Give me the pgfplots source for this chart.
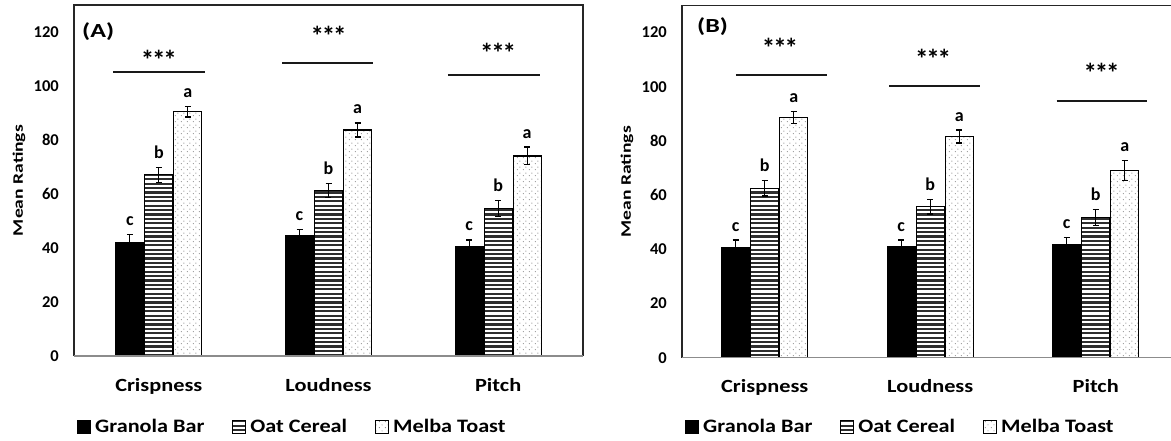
\documentclass[border=0pt]{standalone}
\usepackage{pgfplots}
\pgfplotsset{compat=1.18}
\usepackage{pgfplotstable}
\usepackage{graphicx}
\usepackage{fontspec}
\setmainfont{Carlito}
\usetikzlibrary{patterns}

\newcommand\fs[1]{\fontsize{#1}{#1}\selectfont\bfseries}
\newcommand\stars{{\fs{27}*\kern-2.2pt*\kern-2.2pt*}}
\tikzset{starnode/.style={anchor=base, inner sep=0pt}, sigline/.style={line width=1.6pt, black!90}}

\pgfdeclarepatternformonly{thickhlines}{\pgfqpoint{-1pt}{-1pt}}{\pgfqpoint{101pt}{5.5pt}}{\pgfqpoint{100pt}{4.4pt}}{%
  \pgfsetlinewidth{2.1pt}%
  \pgfpathmoveto{\pgfqpoint{-1pt}{1.1pt}}\pgfpathlineto{\pgfqpoint{101pt}{1.1pt}}\pgfusepath{stroke}}
\pgfdeclarepatternformonly{sparsedots}{\pgfqpoint{0pt}{0pt}}{\pgfqpoint{6pt}{6pt}}{\pgfqpoint{6pt}{6pt}}{%
  \pgfpathcircle{\pgfqpoint{1.5pt}{1.5pt}}{0.6pt}%
  \pgfpathcircle{\pgfqpoint{4.5pt}{4.5pt}}{0.6pt}\pgfusepath{fill}}

% Panel A
\pgfplotstableread{
x v e
0 42.0 3.0
1 44.5 2.5
2 40.5 2.5
}\AGran
\pgfplotstableread{
x v e
0 67.1 2.8
1 61.3 2.7
2 54.6 2.9
}\AOat
\pgfplotstableread{
x v e
0 90.5 2.0
1 83.7 2.6
2 74.1 3.3
}\AMel
% Panel B
\pgfplotstableread{
x v e
0 40.7 2.7
1 41.0 2.4
2 41.6 2.7
}\BGran
\pgfplotstableread{
x v e
0 62.5 2.8
1 55.7 2.7
2 51.7 2.9
}\BOat
\pgfplotstableread{
x v e
0 88.6 2.2
1 81.6 2.4
2 69.0 3.7
}\BMel

\pgfplotsset{
  mybars/.style={
    scale only axis,
    ybar=1pt, bar width=28pt,
    ymin=0, ymax=130,
    axis lines*=left, axis line style={draw=none},
    major tick length=0pt,
    clip=false,
    xtick={0,1,2},
    xticklabels={\scalebox{1.2}[1]{Crispness},\scalebox{1.2}[1]{Loudness},\scalebox{1.2}[1]{Pitch}},
    xticklabel style={font=\fs{18.6}, anchor=base, yshift=-35pt, inner sep=0pt},
    ytick={0,20,...,120},
    yticklabels={0,20,40,60,80,100,120},
    yticklabel style={font=\fs{16.5}, anchor=east, inner sep=0pt, xshift=-15pt},
    ylabel={\scalebox{1.35}[1]{Mean Ratings}},
    error bars/y dir=both,
    error bars/y explicit,
    error bars/error bar style={line width=1.2pt, black},
    error bars/error mark options={rotate=90, mark size=3pt, line width=1.2pt, black},
    visualization depends on={2.7*\thisrow{e}+9 \as \eshift},
    every node near coord/.append style={font=\fs{18}, anchor=base, inner sep=0pt, yshift=\eshift*1pt},
    legend style={draw=none, fill=none, legend columns=3, font=\fs{19},
      /tikz/every even column/.append style={column sep=26pt},
      /tikz/every odd column/.append style={column sep=2pt}},
  },
  gran/.style={fill=black, draw=black, line width=1.2pt, nodes near coords={c}},
  oat/.style={draw=black, line width=1.2pt, pattern=thickhlines, pattern color=black!82, nodes near coords={b}},
  mel/.style={draw=black, line width=1.2pt, pattern=sparsedots, pattern color=black!50, nodes near coords={a}},
}

\begin{document}
\begin{tikzpicture}
\useasboundingbox (0,0) rectangle (1171pt,440pt);

% ---------------- Panel A ----------------
\begin{axis}[mybars,
  at={(74pt,84pt)}, anchor=south west,
  width=509pt, height=351pt,
  xmin=-0.5, xmax=2.5,
  every axis y label/.style={at={(axis description cs:-0.108,0.5)}, rotate=90, anchor=center, font=\fs{14.5}},
  legend style={at={(axis description cs:0,-0.202)}, anchor=west},
  legend image code/.code={\draw[#1, line width=1pt] (0pt,-6.5pt) rectangle (13pt,6.5pt);},
]
\addplot[gran] table[x=x, y=v, y error=e] {\AGran};
\addplot[oat] table[x=x, y=v, y error=e] {\AOat};
\addplot[mel] table[x=x, y=v, y error=e] {\AMel};
\legend{\scalebox{1.17}[1]{Granola Bar},\scalebox{1.17}[1]{Oat Cereal},\scalebox{1.17}[1]{Melba Toast}}
\draw[black!85, line width=1.4pt] (rel axis cs:0,0) -- (rel axis cs:0,1) -- (rel axis cs:1,1) -- (rel axis cs:1,0);
\draw[black!45, line width=1.3pt] (rel axis cs:0,0) -- (rel axis cs:1,0);
\node[anchor=west, font=\fs{20}, inner sep=0pt, xshift=8pt, yshift=-27pt] at (rel axis cs:0,1) {\scalebox{1.3}[1]{(A)}};
\draw[sigline] (axis cs:-0.27,105.2) -- (axis cs:0.27,105.2);
\draw[sigline] (axis cs:0.726,108.5) -- (axis cs:1.262,108.5);
\draw[sigline] (axis cs:1.704,104.1) -- (axis cs:2.246,104.1);
\node[starnode] at (axis cs:0,106.2) {\stars};
\node[starnode] at (axis cs:1,115.0) {\stars};
\node[starnode] at (axis cs:2,108.7) {\stars};
\end{axis}

% ---------------- Panel B ----------------
\begin{axis}[mybars,
  at={(682pt,82.3pt)}, anchor=south west,
  width=489pt, height=352.3pt,
  xmin=-0.5, xmax=2.455,
  every axis y label/.style={at={(axis description cs:-0.1125,0.5)}, rotate=90, anchor=center, font=\fs{14.5}},
  legend style={at={(axis description cs:0,-0.196)}, anchor=west},
  legend image code/.code={\draw[#1, line width=1pt] (0pt,-6.5pt) rectangle (13pt,6.5pt);},
]
\addplot[gran] table[x=x, y=v, y error=e] {\BGran};
\addplot[oat] table[x=x, y=v, y error=e] {\BOat};
\addplot[mel] table[x=x, y=v, y error=e] {\BMel};
\legend{\scalebox{1.17}[1]{Granola Bar},\scalebox{1.17}[1]{Oat Cereal},\scalebox{1.17}[1]{Melba Toast}}
\draw[black!85, line width=1.4pt] (rel axis cs:0,0) -- (rel axis cs:0,1) -- (rel axis cs:1,1);
\draw[black!45, line width=1.3pt] (rel axis cs:0,0) -- (rel axis cs:1,0);
\node[anchor=west, font=\fs{20}, inner sep=0pt, xshift=15pt, yshift=-21.6pt] at (rel axis cs:0,1) {\scalebox{1.3}[1]{(B)}};
\draw[sigline] (axis cs:-0.174,104.3) -- (axis cs:0.374,104.3);
\draw[sigline] (axis cs:0.751,100.3) -- (axis cs:1.30,100.3);
\draw[sigline] (axis cs:1.764,94.8) -- (axis cs:2.31,94.8);
\node[starnode] at (axis cs:0.092,110.8) {\stars};
\node[starnode] at (axis cs:1.017,106.7) {\stars};
\node[starnode] at (axis cs:2.036,101.6) {\stars};
\end{axis}
\end{tikzpicture}
\end{document}
